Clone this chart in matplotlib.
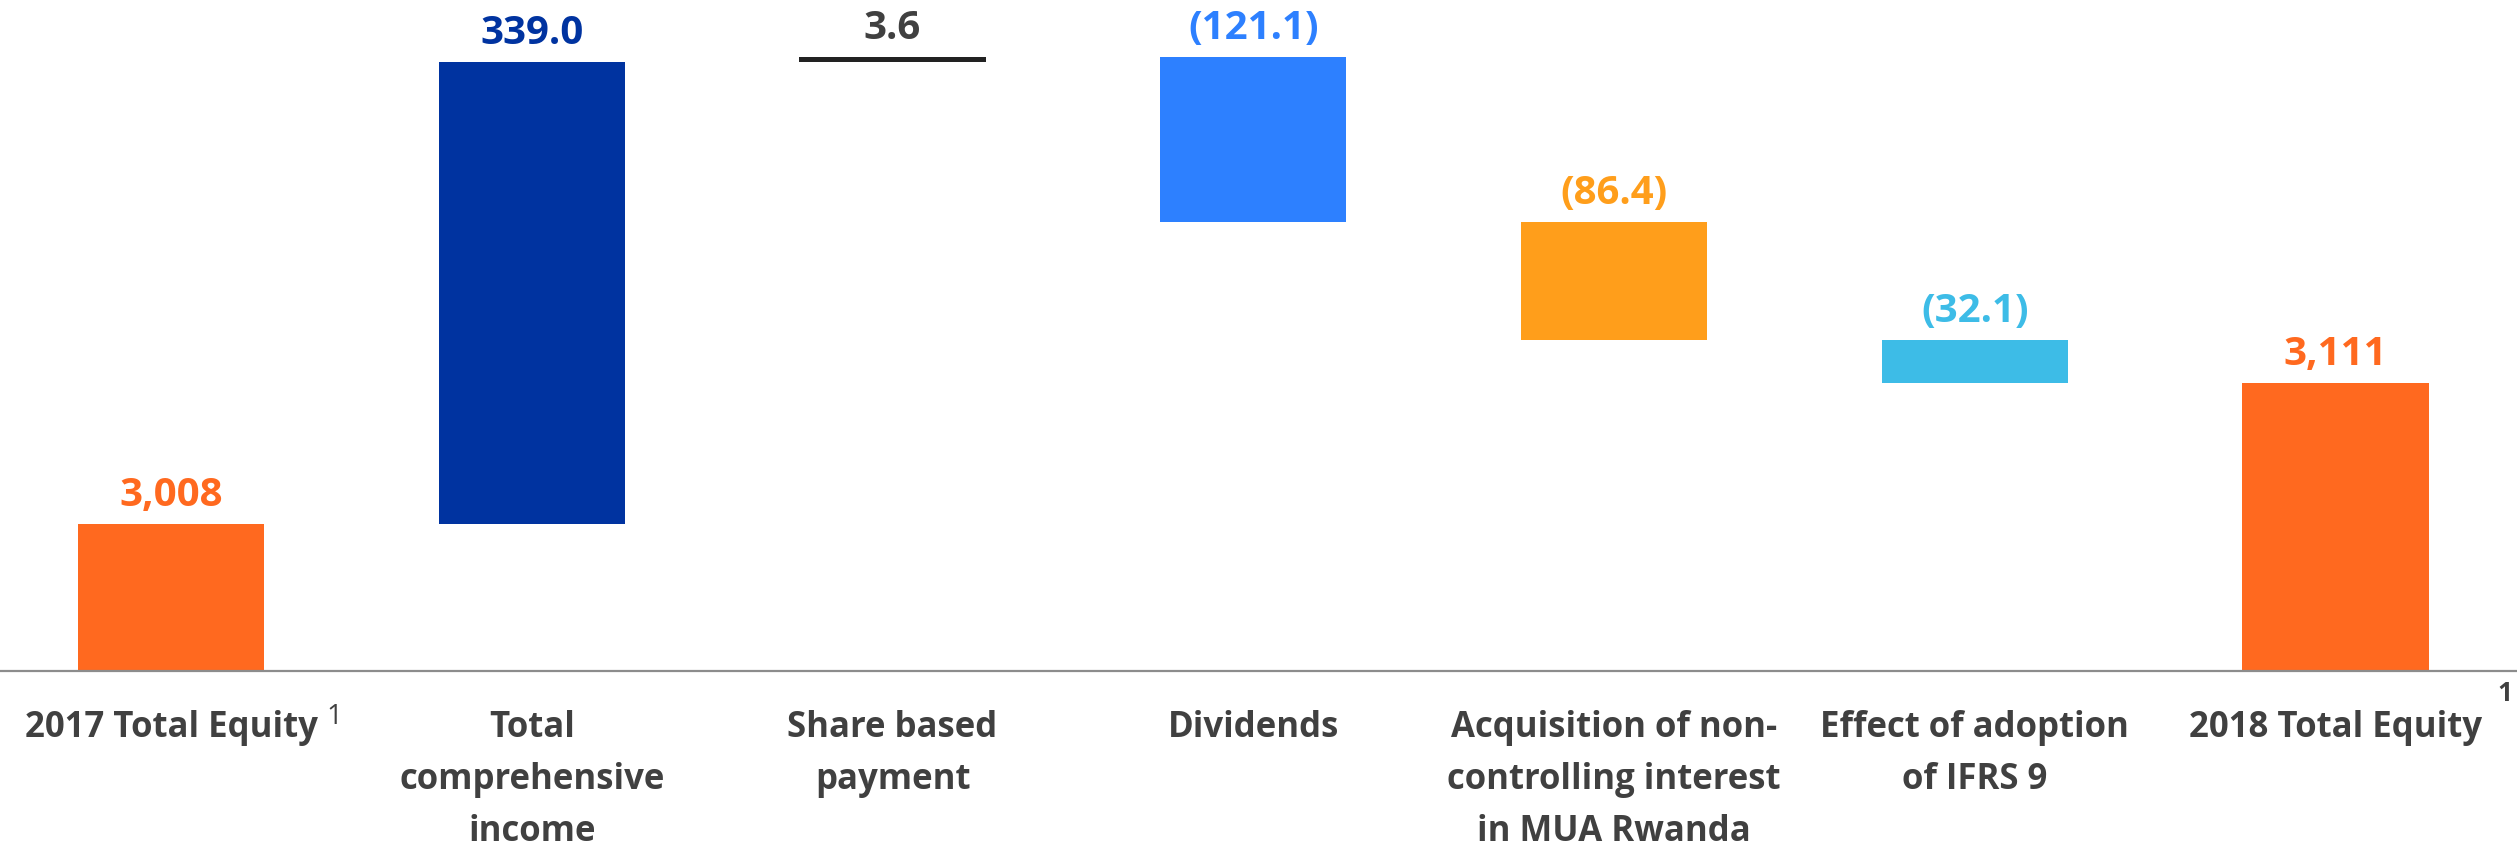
import matplotlib
matplotlib.use("Agg")
import matplotlib.pyplot as plt

# Waterfall data (USD m)
categories = ["2017 Total Equity", "Total\ncomprehensive\nincome", "Share based\npayment",
              "Dividends", "Acquisition of non-\ncontrolling interest\nin MUA Rwanda",
              "Effect of adoption\nof IFRS 9", "2018 Total Equity"]
start_total = 3008
changes = [339.0, 3.6, -121.1, -86.4, -32.1]
end_total = 3111

colors = ["#FF691F", "#0033A0", "#222222", "#2D80FF", "#FF9E1B", "#3DBCE7", "#FF691F"]
label_colors = ["#FF691F", "#0033A0", "#404040", "#2D80FF", "#FF9E1B", "#3DBCE7", "#FF691F"]

y_floor = 2900
font = "Open Sans"

fig = plt.figure(figsize=(25.17, 8.48), dpi=100)
ax = fig.add_axes([0, 0.209, 1, 0.791])

# build bottoms / heights / tops
bottoms = [y_floor]
heights = [start_total - y_floor]
tops = [start_total]
labels = [f"{start_total:,.0f}"]
level = start_total
for c in changes:
    new = level + c
    bottoms.append(min(level, new))
    heights.append(abs(c))
    tops.append(max(level, new))
    labels.append(f"{c:.1f}" if c > 0 else f"({-c:.1f})")
    level = new
bottoms.append(y_floor)
heights.append(end_total - y_floor)
tops.append(end_total)
labels.append(f"{end_total:,.0f}")

x = list(range(len(categories)))
ax.bar(x, heights, bottom=bottoms, width=0.516, color=colors, linewidth=0, zorder=1)

for xi, top, lab, col in zip(x, tops, labels, label_colors):
    ax.annotate(lab, (xi, top), xytext=(0, 13), textcoords="offset points",
                ha="center", va="baseline", fontsize=29, fontweight="bold",
                color=col, family=font)

ax.set_xlim(-0.474, 6.503)
ax.set_ylim(y_floor, 3392.4)

for s in ["top", "right", "left"]:
    ax.spines[s].set_visible(False)
ax.spines["bottom"].set_color("#8C8C8C")
ax.spines["bottom"].set_linewidth(1.6)
ax.spines["bottom"].set_zorder(3)
ax.set_yticks([])
ax.set_xticks(x)
ax.set_xticklabels(categories, fontsize=25, fontweight="bold", color="#404040",
                   family=font, linespacing=1.6)
ax.tick_params(axis="x", length=0, pad=28)

# footnote markers
W, H = 2517, 848
fig.text(326 / W, 1 - 703 / H, "1", fontsize=20, color="#404040", family=font,
         ha="left", va="top")
fig.text(2497 / W, 1 - 680 / H, "1", fontsize=19, fontweight="bold", color="#404040",
         family=font, ha="left", va="top")

fig.savefig("out.png", dpi=100, facecolor="white")
